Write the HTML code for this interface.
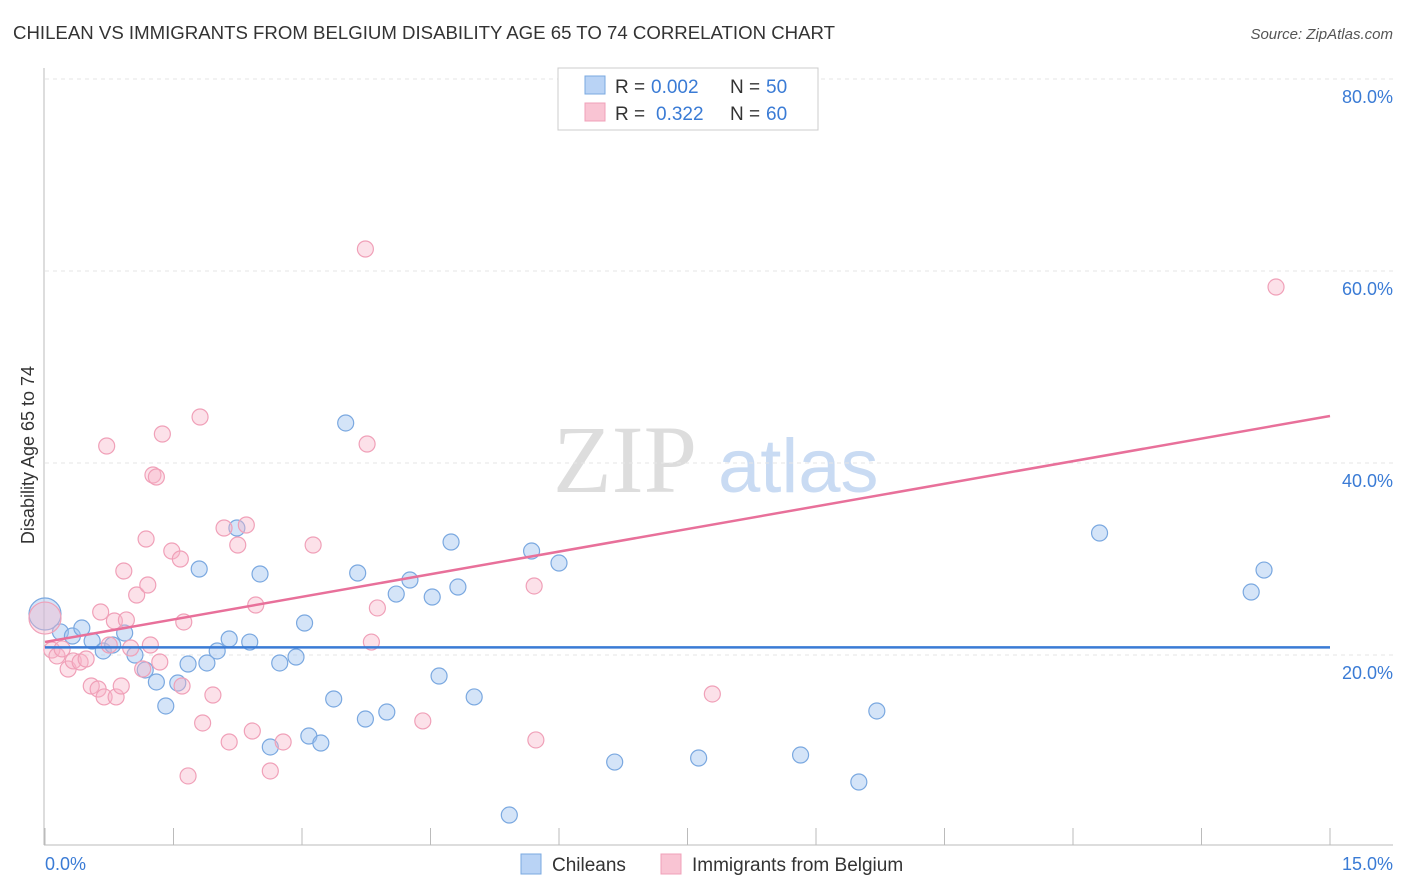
<!DOCTYPE html>
<html><head><meta charset="utf-8"><style>
body{margin:0;background:#fff;font-family:"Liberation Sans",sans-serif;}
svg{display:block}
</style></head><body>
<svg id="chart" width="1406" height="892" xmlns="http://www.w3.org/2000/svg">
<text x="13" y="39" font-size="18" fill="#333" textLength="822" lengthAdjust="spacingAndGlyphs">CHILEAN VS IMMIGRANTS FROM BELGIUM DISABILITY AGE 65 TO 74 CORRELATION CHART</text>
<text x="1393" y="39" font-size="15" fill="#555" font-style="italic" text-anchor="end">Source: ZipAtlas.com</text>
<g>
<text x="553" y="492" font-size="96" fill="#ddd" font-family="Liberation Serif,serif">ZIP</text>
<text x="718" y="492" font-size="76" fill="#c9dbf3">atlas</text>
</g>
<g id="grid"></g>
<g id="axes"></g>
<g id="marks"></g>
<text transform="translate(34,455) rotate(-90)" font-size="18" fill="#333" text-anchor="middle">Disability Age 65 to 74</text>
<text x="45" y="870" font-size="18" fill="#3a7bd5">0.0%</text>
<text x="1393" y="870" font-size="18" fill="#3a7bd5" text-anchor="end">15.0%</text>
<g>
<rect x="558" y="68" width="260" height="62" fill="#fff" stroke="#ccc"/>
<rect x="585" y="76" width="20" height="18" fill="#b9d3f5" stroke="#7aa8e0"/>
<rect x="585" y="103" width="20" height="18" fill="#f9c4d3" stroke="#f0a0b8"/>
<text x="615" y="93" font-size="19" fill="#333">R =</text>
<text x="651" y="93" font-size="19" fill="#3a7bd5">0.002</text>
<text x="730" y="93" font-size="19" fill="#333">N =</text>
<text x="766" y="93" font-size="19" fill="#3a7bd5">50</text>
<text x="615" y="120" font-size="19" fill="#333">R =</text>
<text x="656" y="120" font-size="19" fill="#3a7bd5">0.322</text>
<text x="730" y="120" font-size="19" fill="#333">N =</text>
<text x="766" y="120" font-size="19" fill="#3a7bd5">60</text>
</g>
<g>
<rect x="521" y="854" width="20" height="20" fill="#b9d3f5" stroke="#7aa8e0"/>
<text x="552" y="871" font-size="19" fill="#333">Chileans</text>
<rect x="661" y="854" width="20" height="20" fill="#f9c4d3" stroke="#f0a0b8"/>
<text x="692" y="871" font-size="19" fill="#333">Immigrants from Belgium</text>
</g>
</svg>
<script>
const yTicks=[20,40,60,80];
const yTickLabels=["20.0%","40.0%","60.0%","80.0%"];
const xTickVals=[0,1.5,3,4.5,6,7.5,9,10.5,12,13.5,15];
const blueX=[0,0.18,0.32,0.43,0.55,0.68,0.79,0.93,1.05,1.17,1.30,1.41,1.55,1.67,1.80,1.89,2.01,2.15,2.24,2.39,2.51,2.63,2.74,2.93,3.03,3.08,3.22,3.37,3.51,3.65,3.74,3.99,4.10,4.26,4.52,4.60,4.74,4.82,5.01,5.42,5.68,6.00,6.65,7.63,8.82,9.50,9.71,12.31,14.08,14.23];
const blueY=[24.27,22.40,21.98,22.81,21.46,20.42,21.04,22.29,20.00,18.44,17.19,14.69,17.08,19.06,28.96,19.17,20.42,21.67,33.23,21.35,28.44,10.42,19.17,19.79,23.33,11.56,10.83,15.42,44.17,28.54,13.33,14.06,26.35,27.81,26.04,17.81,31.77,27.08,15.63,3.33,30.83,29.58,8.85,9.27,9.58,6.77,14.17,32.71,26.56,28.85];
const pinkX=[0,0.08,0.14,0.20,0.27,0.33,0.41,0.48,0.54,0.62,0.65,0.69,0.75,0.81,0.83,0.89,0.92,0.95,1.00,1.07,1.14,1.18,1.20,1.23,1.26,1.30,1.34,1.37,1.48,1.58,1.60,1.62,1.67,1.81,1.84,1.96,2.09,2.15,2.25,2.35,2.42,2.46,2.63,2.78,3.13,3.74,3.76,3.81,3.88,4.41,5.71,5.73,7.79,14.37,0.72];
const pinkY=[23.85,20.52,19.90,20.63,18.54,19.38,19.27,19.58,16.77,16.46,24.48,15.63,21.04,23.54,15.63,16.77,28.75,23.65,20.73,26.25,18.54,32.08,27.29,21.04,38.75,38.54,19.27,43.02,30.83,30.00,16.77,23.44,7.40,44.79,12.92,15.83,33.23,10.94,31.46,33.54,12.08,25.21,7.92,10.94,31.46,62.29,41.98,21.35,24.90,13.13,27.19,11.15,15.94,58.33,41.77];
const blueTrend=[20.8,20.8];
const pinkTrend=[21.35,44.9];
const X0=45,X1=1330,Y0=847,PXY=9.6;
const sx=v=>X0+(X1-X0)*v/15;
const sy=v=>Y0-v*PXY;
const NS="http://www.w3.org/2000/svg";
function mk(p,t,a){const e=document.createElementNS(NS,t);for(const k in a)e.setAttribute(k,a[k]);p.appendChild(e);return e;}
const grid=document.getElementById('grid'),axes=document.getElementById('axes'),marks=document.getElementById('marks');
yTicks.forEach((t,i)=>{
 const l=mk(grid,'line',{x1:45,x2:1393,y1:sy(t),y2:sy(t),stroke:'#e6e6e6','stroke-dasharray':'4,4'});
 
 
 const tx=mk(grid,'text',{x:1393,y:sy(t)+24,'font-size':18,fill:'#3a7bd5','text-anchor':'end'});
 tx.textContent=yTickLabels[i];
 
 
});
let a=mk(axes,'line',{x1:44,x2:44,y1:68,y2:845,stroke:'#bbb'});


a=mk(axes,'line',{x1:44,x2:1393,y1:845,y2:845,stroke:'#bbb'});


xTickVals.forEach(v=>{
 const t=mk(axes,'line',{x1:sx(v),x2:sx(v),y1:828,y2:845,stroke:'#bbb'});
 
 
});
function dots(xs,ys,fill,stroke,name){
 xs.forEach((x,i)=>{
  const r=(i===0)?16:8;
  const c=mk(marks,'circle',{cx:sx(x),cy:sy(ys[i]),r:r,fill:fill,stroke:stroke,'stroke-width':1.2});
  
  
 });
}
dots(blueX,blueY,'rgba(160,195,240,0.45)','#7aa8e0','chileans-point');
dots(pinkX,pinkY,'rgba(248,180,200,0.4)','#f0a0b8','belgium-point');
let tl=mk(marks,'line',{x1:sx(0),x2:sx(15),y1:sy(blueTrend[0]),y2:sy(blueTrend[1]),stroke:'#3a7bd5','stroke-width':2.5});


tl=mk(marks,'line',{x1:sx(0),x2:sx(15),y1:sy(pinkTrend[0]),y2:sy(pinkTrend[1]),stroke:'#e8709a','stroke-width':2.5});


</script>
</body></html>
